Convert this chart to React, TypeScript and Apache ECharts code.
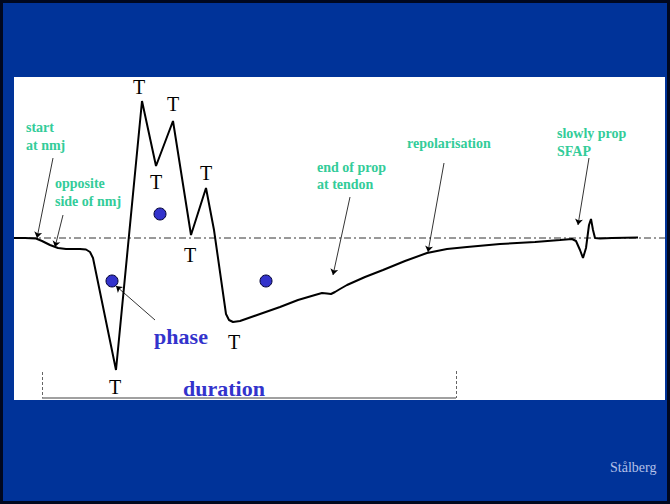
import React, { useEffect, useRef } from "react";
import * as echarts from "echarts";

// Waveform: x = time (arbitrary units), y = amplitude (arbitrary units, baseline 0)
const waveX = [0, 11, 22, 28, 36, 44, 52, 66, 72, 76, 79, 102, 128, 142, 159, 177, 192, 200, 212, 215, 219, 226, 246, 266, 284, 301, 308, 313, 317, 321, 326, 333, 351, 369, 391, 413, 433, 453, 486, 521, 546, 558, 562, 566, 569, 572, 575, 577, 579, 581, 586, 598, 624];
const waveY = [0, 0, -0.5, -3, -7, -10, -11, -11, -11.5, -14, -20, -132, 137, 72, 117, 3, 50, 8, -76, -82, -84, -83, -76, -69, -62, -57, -55, -55.5, -56, -54, -51, -47, -39, -32, -23, -15, -11, -9, -6, -4, -2, -1, -3, -12, -20, -10, 13, 19, 8, 0, -0.5, 0, 0.5];

// Phase markers
const phaseX = [146, 98, 252];
const phaseY = [24, -43, -43];

// Turn labels "T"
const turnX = [125, 159, 142, 192, 176, 220, 101];
const turnY = [151, 134, 56, 65, -17, -104, -149];

// Annotation arrows [fromX, fromY, toX, toY]
const arrowFromX = [39, 49, 141, 336, 430, 575];
const arrowFromY = [80, 23, -82, 41, 75, 80];
const arrowToX = [23, 41, 102, 319, 414, 564];
const arrowToY = [0, -9, -48, -37, -14, 13];

// Duration bracket
const durStart = 28;
const durEnd = 442;
const durTopL = -134;
const durTopR = -133;
const durBottom = -160;

const xMin = 0;
const xMax = 651;
const yMin = -162;
const yMax = 161;

const teal = "#33cc99";
const blue = "#3333cc";

export default function App() {
  const ref = useRef<HTMLDivElement>(null);
  useEffect(() => {
    document.body.style.margin = "0";
    const chart = echarts.init(ref.current!, undefined, { renderer: "svg" });

    const wave = waveX.map((x, i) => [x, waveY[i]]);
    const phases = phaseX.map((x, i) => [x, phaseY[i]]);
    const turns = turnX.map((x, i) => [x, turnY[i]]);
    const arrows = arrowFromX.map((x, i) => ({
      coords: [
        [x, arrowFromY[i]],
        [arrowToX[i], arrowToY[i]],
      ],
    }));

    const tealFont = "bold 14px 'Liberation Serif', 'Times New Roman', serif";
    const tealText = (text: string, x: number, y: number) => ({
      type: "text",
      x,
      y,
      z: 100,
      style: { text, fill: teal, font: tealFont, textAlign: "left", textVerticalAlign: "middle" },
    });

    chart.setOption({
      animation: false,
      backgroundColor: "#003399",
      grid: {
        left: 14,
        top: 77,
        width: 651,
        height: 323,
        show: true,
        backgroundColor: "#ffffff",
        borderWidth: 0,
      },
      xAxis: { type: "value", min: xMin, max: xMax, show: false },
      yAxis: { type: "value", min: yMin, max: yMax, show: false },
      series: [
        {
          type: "line",
          data: [
            [xMin, 0],
            [xMax, 0],
          ],
          symbol: "none",
          silent: true,
          lineStyle: { color: "#333", width: 1, type: [7, 3, 2, 3] },
          z: 1,
        },
        {
          type: "lines",
          coordinateSystem: "cartesian2d",
          silent: true,
          symbol: "none",
          z: 1,
          lineStyle: { opacity: 1 },
          data: [
            { coords: [[durStart, durTopL], [durStart, durBottom]], lineStyle: { type: [3, 2], width: 1, color: "#666", opacity: 1 } },
            { coords: [[durStart, durBottom], [durEnd, durBottom]], lineStyle: { type: "solid", width: 1.5, color: "#808080", opacity: 1 } },
            { coords: [[durEnd, durTopR], [durEnd, durBottom]], lineStyle: { type: [3, 2], width: 1, color: "#666", opacity: 1 } },
          ],
        },
        {
          type: "line",
          data: wave,
          symbol: "none",
          silent: true,
          lineStyle: { color: "#000", width: 2 },
          z: 3,
        },
        {
          type: "lines",
          coordinateSystem: "cartesian2d",
          silent: true,
          symbol: ["none", "arrow"],
          symbolSize: 6,
          lineStyle: { color: "#000", width: 0.8, curveness: 0, opacity: 1 },
          data: arrows,
          z: 4,
        },
        {
          type: "scatter",
          data: phases,
          symbol: "circle",
          symbolSize: 12,
          silent: true,
          itemStyle: { color: blue, borderColor: "#000033", borderWidth: 1, opacity: 1 },
          z: 5,
        },
        {
          type: "scatter",
          data: turns,
          symbolSize: 1,
          silent: true,
          itemStyle: { color: "rgba(0,0,0,0)", opacity: 1 },
          label: {
            show: true,
            position: "inside",
            formatter: "T",
            color: "#000",
            opacity: 1,
            fontSize: 20,
            fontFamily: "'Liberation Serif', 'Times New Roman', serif",
          },
          z: 5,
        },
      ],
      graphic: [
        {
          type: "rect",
          z: 100,
          shape: { x: 1.5, y: 1.5, width: 667, height: 501 },
          style: { fill: "none", stroke: "#00081f", lineWidth: 3 },
        },
        tealText("start", 26, 127),
        tealText("at nmj", 26, 145),
        tealText("opposite", 55, 183),
        tealText("side of nmj", 55, 201),
        tealText("end of prop", 317, 167),
        tealText("at tendon", 317, 184),
        tealText("repolarisation", 407, 143),
        tealText("slowly prop", 557, 133),
        tealText("SFAP", 557, 151),
        {
          type: "text",
          x: 181,
          y: 336,
          z: 100,
          style: { text: "phase", fill: blue, font: "bold 22px 'Liberation Serif', 'Times New Roman', serif", textAlign: "center", textVerticalAlign: "middle" },
        },
        {
          type: "text",
          x: 224,
          y: 388,
          z: 100,
          style: { text: "duration", fill: blue, font: "bold 22px 'Liberation Serif', 'Times New Roman', serif", textAlign: "center", textVerticalAlign: "middle" },
        },
        {
          type: "text",
          x: 610,
          y: 467,
          z: 100,
          style: { text: "Stålberg", fill: "#b3c0e8", font: "14px 'Liberation Serif', 'Times New Roman', serif", textAlign: "left", textVerticalAlign: "middle" },
        },
      ],
    });
    return () => chart.dispose();
  }, []);
  return <div ref={ref} style={{ width: 670, height: 504 }} />;
}
